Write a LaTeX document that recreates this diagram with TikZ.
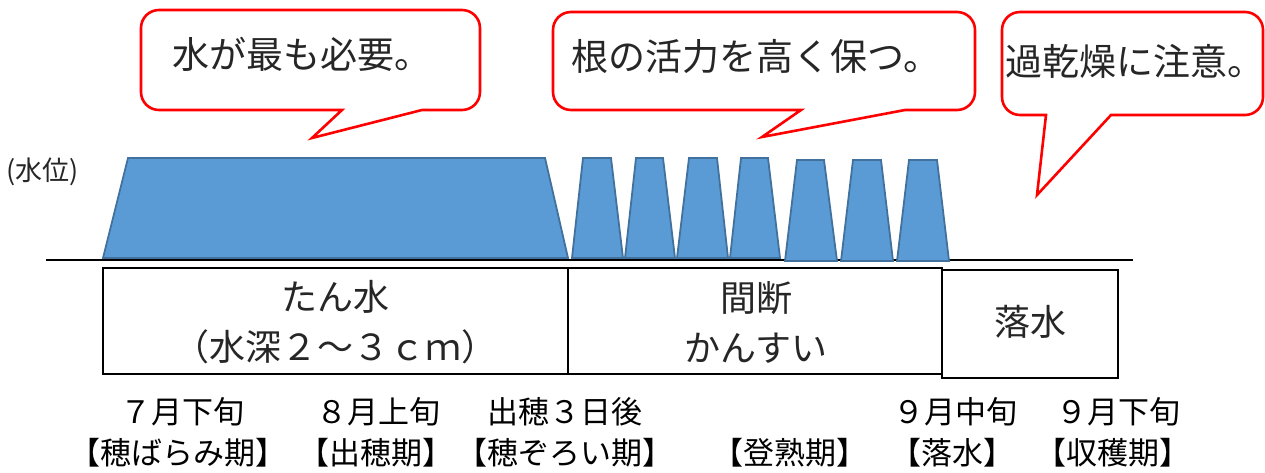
\documentclass[tikz,border=0pt]{standalone}
\usepackage{fontspec}
\setmainfont{Noto Sans CJK JP}
\definecolor{wfill}{HTML}{5B9BD5}
\definecolor{wline}{HTML}{41719C}
\definecolor{ctext}{HTML}{262626}
\definecolor{cred}{HTML}{FF0000}
\newcommand{\mycallout}[8]{% L T R B a tx ty b
  \draw[callout] (#5,#4) -- (#6,#7) -- (#8,#4) -- ({#3-18},#4)
    arc[start angle=90,end angle=0,radius=18] -- (#3,{#2+18})
    arc[start angle=0,end angle=-90,radius=18] -- ({#1+18},#2)
    arc[start angle=-90,end angle=-180,radius=18] -- (#1,{#4-18})
    arc[start angle=180,end angle=90,radius=18] -- cycle;}
\begin{document}
\begin{tikzpicture}[x=1pt,y=-1pt,
  trap/.style={fill=wfill,draw=wline,line width=1.8pt,line join=miter},
  callout/.style={draw=cred,fill=white,line width=2.6pt,line join=miter},
  boxst/.style={draw=black,line width=2.2pt},
  big/.style={text=ctext,font=\fontsize{36}{50}\selectfont,align=center,inner sep=0pt},
  ctx/.style={text=ctext,font=\fontsize{37}{40}\selectfont,inner sep=0pt},
  lab/.style={text=black,font=\fontsize{31}{34}\selectfont,inner sep=0pt}]
\useasboundingbox (0,0) rectangle (1265,473);
% callouts
\mycallout{141}{10}{480}{110}{342}{312}{138}{422}
\mycallout{553}{12}{975}{110}{801}{762}{137}{905}
\mycallout{1002}{12}{1263}{115}{1046}{1037}{195}{1111}
\node[ctx] (c1) at (302,54) {水が最も必要。};
\node[ctx] (c2) at (756,56) {根の活力を高く保つ。};
\node[ctx] (c3) at (1135,61) {過乾燥に注意。};
% water level
\node[text=ctext,font=\fontsize{27}{30}\selectfont,inner sep=0pt] (wl) at (43,172) {(水位)};
\draw[black,line width=1.3pt] (46,260) -- (1133,260);
\draw[trap] (103,258) -- (128,158) -- (545,158) -- (568,258) -- cycle;
\foreach \a/\b/\c/\d/\t/\u in {572/583/611/623/158/258, 625/636/663/675/158/258, 677/689/717/728/158/258, 730/741/768/780/158/258, 785/797/824/837/160/261, 841/853/881/893/160/261, 897/909/937/949/160/261}
  \draw[trap] (\a,\u) -- (\b,\t) -- (\c,\t) -- (\d,\u) -- cycle;
% boxes
\draw[boxst] (103,268) rectangle (568,374);
\draw[boxst] (568,268) rectangle (942,374);
\draw[boxst,fill=white] (942,270) rectangle (1118,378);
\node[big] (b1) at (335,322) {たん水\\（水深２～３ｃｍ）};
\node[big] (b2) at (756,322) {間断\\かんすい};
\node[big] (b3) at (1030,322) {落水};
% labels
\node[lab] (t1) at (182,412) {７月下旬};
\node[lab] (t2) at (378,412) {８月上旬};
\node[lab] (t3) at (565,412) {出穂３日後};
\node[lab] (t4) at (955,412) {９月中旬};
\node[lab] (t5) at (1118,412) {９月下旬};
\node[lab] (p1) at (178,453) {【穂ばらみ期】};
\node[lab] (p2) at (376,453) {【出穂期】};
\node[lab] (p3) at (565,453) {【穂ぞろい期】};
\node[lab] (p4) at (790,453) {【登熟期】};
\node[lab] (p5) at (952,453) {【落水】};
\node[lab] (p6) at (1113,453) {【収穫期】};
\end{tikzpicture}
\end{document}
